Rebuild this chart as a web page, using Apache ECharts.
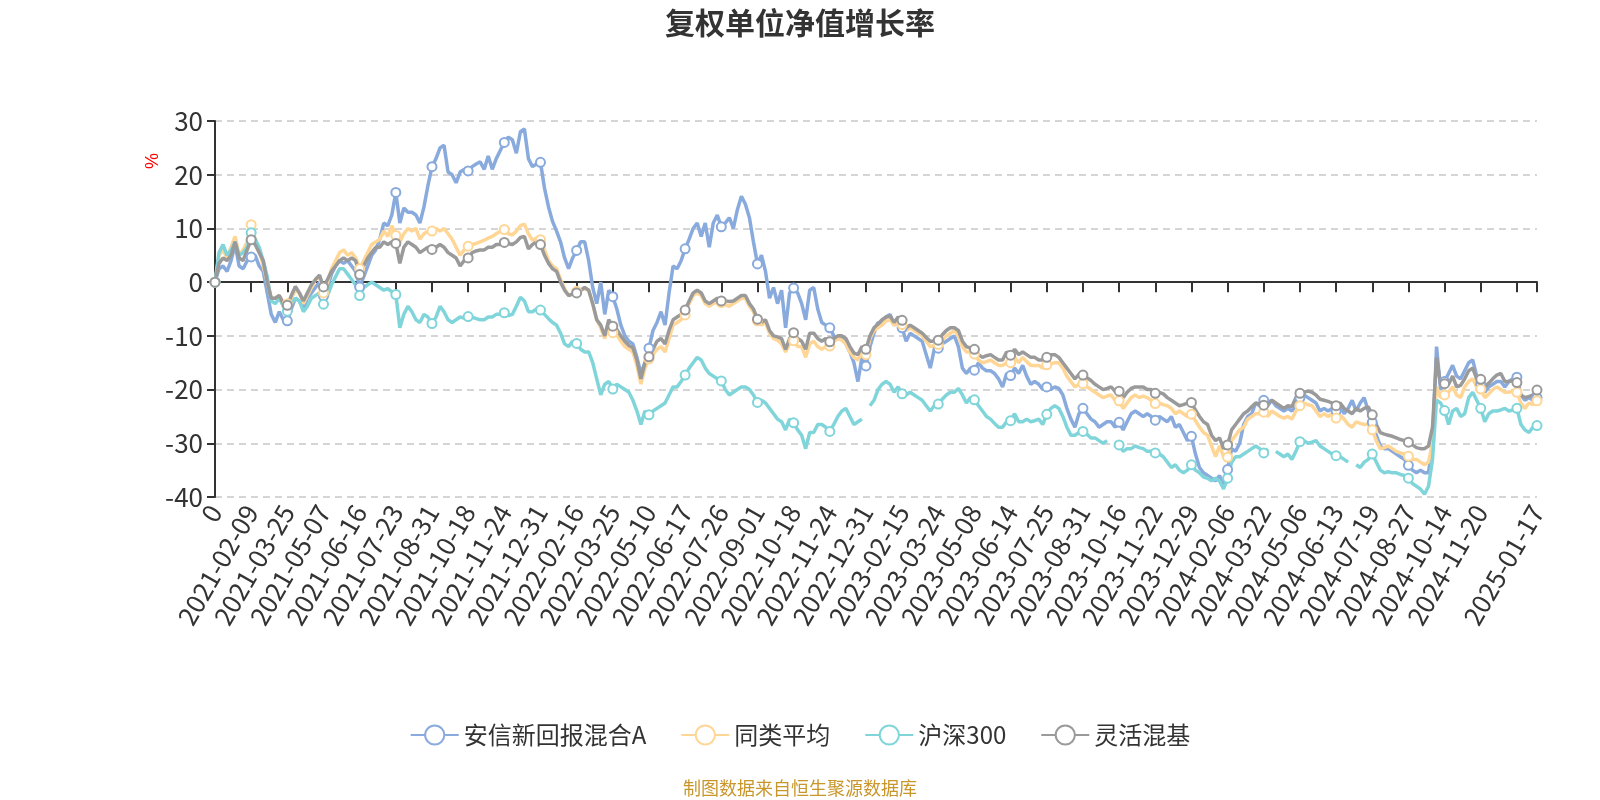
<!DOCTYPE html>
<html>
<head>
<meta charset="utf-8">
<title>复权单位净值增长率</title>
<script src="https://cdn.jsdelivr.net/npm/echarts@6/dist/echarts.min.js"></script>
<style>
html, body { margin: 0; padding: 0; background: #fff; }
#main { width: 1600px; height: 800px; }
</style>
</head>
<body>
<div id="main"></div>
<script>
// 交易日历：工作日去掉休市日，再加上有净值的季末/年末非交易日
var holidays = [
    '2021-01-01', '2021-02-11', '2021-02-12', '2021-02-15', '2021-02-16', '2021-02-17', '2021-04-05',
    '2021-05-03', '2021-05-04', '2021-05-05', '2021-06-14', '2021-09-20', '2021-09-21',
    '2021-10-01', '2021-10-04', '2021-10-05', '2021-10-06', '2021-10-07',
    '2022-01-03', '2022-01-31', '2022-02-01', '2022-02-02', '2022-02-03', '2022-02-04', '2022-04-04',
    '2022-04-05', '2022-05-02', '2022-05-03', '2022-05-04', '2022-06-03', '2022-09-12',
    '2022-10-03', '2022-10-04', '2022-10-05', '2022-10-06', '2022-10-07',
    '2023-01-02', '2023-01-23', '2023-01-24', '2023-01-25', '2023-01-26', '2023-01-27', '2023-04-05',
    '2023-05-01', '2023-05-02', '2023-05-03', '2023-06-22', '2023-06-23', '2023-09-29',
    '2023-10-02', '2023-10-03', '2023-10-04', '2023-10-05', '2023-10-06',
    '2024-01-01', '2024-02-09', '2024-02-12', '2024-02-13', '2024-02-14', '2024-02-15', '2024-02-16',
    '2024-04-04', '2024-04-05', '2024-05-01', '2024-05-02', '2024-05-03', '2024-06-10',
    '2024-09-16', '2024-09-17', '2024-10-01', '2024-10-02', '2024-10-03', '2024-10-04', '2024-10-07',
    '2025-01-01'
];
var extraDates = ['2022-12-31', '2023-09-30', '2023-12-31', '2024-03-31', '2024-06-30'];
var startDate = '2021-01-04';
var endDate = '2025-01-17';
var step = 3; // 每3个交易日取一个点

var seriesNames = ['安信新回报混合A', '同类平均', '沪深300', '灵活混基'];

var fundA = [0, 2.5, 3, 2, 4, 7, 3, 2.5, 4, 4.7,
    5, 3, 2, -2, -6, -7.5, -5.5, -7, -7.2,
    -5, -3, -3.5, -5, -3, -2, -1, 0, -2.6,
    -1, 1.5, 3, 4, 3.5, 4, 3, 2, -0.9,
    1, 3, 5, 6, 8, 11, 10.5, 12.5, 16.7,
    11, 13.8, 13, 13, 12.5, 11, 14, 18, 21.5,
    23, 25, 25.5, 20.5, 20, 18.5, 20.5, 21, 20.7,
    21.5, 22, 22.4, 21, 23.5, 21, 23, 24.5, 26,
    27, 26.5, 24, 28, 28.5, 23, 21.5, 22, 22.3,
    17.5, 14, 11.3, 9.5, 7.5, 4.5, 2.5, 4.5, 5.9,
    7.5, 7.5, 4, -1, -4, 0, -6, -1.5, -2.7,
    -5, -8, -10, -11, -11.5, -14, -17, -15, -12.3,
    -9, -7.5, -5.5, -8, -2, 3, 2.5, 4, 6.2,
    8, 10, 11, 8.5, 11, 6.5, 11, 12.5, 10.3,
    11, 12, 10, 13.5, 16, 14.5, 12, 7.5, 3.4,
    5, 2, -3, -1, -4, -1.5, -8.5, -2, -1.1,
    -2, -4, -7, -1.5, -1, -5, -7.5, -8, -8.5,
    -10, -10.5, -10.5, -11.5, -13, -15, -18.5, -14, -15.6,
    -12, -9.5, -7.5, -8, -6.5, -6, -8, -7.5, -8.5,
    -11, -9.5, -10, -10.5, -11, -13.5, -16, -12.5, -12.3,
    -11.5, -11, -10.5, -10, -12, -16, -17, -16, -16.4,
    -15, -16, -16.5, -16.5, -17, -18, -19.5, -17, -17.4,
    -16, -17, -15.5, -17.5, -19, -18.5, -19, -20, -19.5,
    -20, -19.5, -19.8, -21, -23.5, -25.5, -27, -24.5, -23.5,
    -24.5, -25.5, -26, -27, -26.5, -26, -26, -27, -26.1,
    -27.5, -26, -24.5, -24, -24.5, -25, -24.5, -25, -25.7,
    -25, -25.5, -26, -25, -27, -26.5, -28, -29.5, -28.7,
    -32, -34.5, -35.5, -36, -36.5, -37, -36, -38, -34.9,
    -31, -31.5, -30, -26.5, -25, -24.5, -22.5, -23, -22,
    -23, -22, -23, -23.5, -24, -23.5, -24, -23, -21.5,
    -21, -21.5, -22, -22.5, -24, -23.5, -24, -23.5, -24,
    -23, -24.5, -23.5, -22, -24, -22.5, -21.5, -24, -26.1,
    -28.5, -30.5, -31, -31, -31.5, -32, -32.5, -33, -34.1,
    -35, -35.5, -35, -35.5, -35.5, -30, -12, -20, -18.5,
    -17, -15.5, -17.5, -18, -16.5, -15, -14.5, -17.5, -19,
    -20.5, -19.5, -19, -18.5, -18.5, -19.5, -18.5, -18, -17.7,
    -21, -22, -21.5, -22, -21.5];

var peerAvg = [0, 5, 6, 4.5, 6.5, 8.5, 5, 6, 7.5, 10.7,
    8, 6, 3, 0, -3, -3, -2.5, -4, -4,
    -3, -1.5, -2, -4, -2.5, -1, 0.5, 1, -2,
    0, 2.5, 4, 5.5, 6, 5, 5.5, 4.5, 2.5,
    4, 5.5, 7, 7.5, 8, 9.5, 8.5, 10.5, 8.7,
    7.5, 9, 10, 9.5, 10, 8, 9, 9.5, 9.5,
    10, 9.5, 10, 9, 8, 6.5, 5, 6, 6.7,
    7, 7.2, 7.5, 7.8, 8.2, 8.5, 9, 9.5, 9.8,
    9, 8.8, 9.5, 10.5, 10.8, 9, 7.8, 8.2, 7.9,
    6, 4, 3, 2.5, 0.5, -1.2, -2.5, -2.2, -1.7,
    -1.5, -1.2, -1.5, -4, -7, -8.5, -10.5, -7.5, -9.4,
    -9.8, -11, -12, -12.5, -13, -15.5, -19, -16, -14.3,
    -13.5, -12.5, -12, -13, -10.5, -8, -7.5, -7, -6.1,
    -4, -2.5, -2, -2.5, -4, -4.5, -4, -3.5, -3.8,
    -4.2, -4.5, -4, -3.5, -3, -3, -4.5, -5.5, -7.2,
    -8, -7.5, -9.5, -10.5, -10.8, -11.5, -13, -11.5, -10.9,
    -12, -12, -14, -11.5, -11, -12, -12.5, -12, -11.9,
    -11, -10.5, -10.8, -11.5, -13, -14, -14.5, -13, -13.5,
    -10.5, -9, -8.5, -8, -7.2, -7, -8, -7.5, -7.9,
    -9, -8.5, -9, -9.5, -10, -11, -12, -11.8, -11.6,
    -10.8, -10, -9.5, -9, -10, -12, -13, -13, -13.4,
    -14.5, -15, -14.8, -14.5, -15, -15.5, -15.5, -15, -15,
    -14, -15, -14, -14.8, -15.5, -15.5, -15.5, -16, -15.4,
    -15.2, -15, -15, -16, -17.5, -18.5, -19.5, -19, -18.9,
    -19.5, -20, -20.5, -21, -21.5, -21.2, -21, -22, -22.1,
    -23.5, -22.5, -21.5, -21, -21.5, -21.2, -21.5, -22, -22.6,
    -22.5, -22.8, -23, -23.5, -24.5, -24, -24.5, -25, -24.6,
    -25.8, -27, -28, -28.5, -30.5, -32.5, -30.5, -32.5, -32.6,
    -29.5, -28.5, -27.5, -27, -25.5, -25, -24.5, -24.5, -24.2,
    -25, -24, -24.5, -25, -25.3, -25, -25.5, -24, -23,
    -22.5, -22.8, -23, -24, -25, -24.5, -25, -24.5, -25.3,
    -24.8, -25.5, -26.5, -27, -26, -26.3, -26.5, -26.5, -27.5,
    -29.5, -31, -30.8, -30.5, -31, -31.5, -31.8, -32, -32.4,
    -33, -33, -33.5, -34, -33.5, -30, -19.5, -21.5, -21,
    -20.5, -19.5, -21, -21.5, -19.5, -18.5, -18, -19.5, -19.9,
    -21.5, -20.8, -20, -19.5, -20, -20.5, -20.5, -20.3, -20.5,
    -22.5, -23.5, -22.5, -22.8, -22.1];

var hs300 = [0, 5.5, 7, 5, 6, 7.5, 5, 5.5, 6.5, 9.2,
    8, 6.5, 4, 1, -3.5, -4, -3, -4.5, -5.4,
    -4, -3, -3.5, -5.5, -4.5, -3, -2.5, -2, -4.1,
    -2.5, -0.5, 1, 2.5, 2.5, 1.5, 0.5, -0.5, -2.5,
    -1, -0.5, 0, -0.5, -1, -1.5, -1.2, -1.8, -2.3,
    -8.5, -6, -4.5, -5.5, -7, -7.5, -6, -6.5, -7.7,
    -6.5, -4.5, -5.5, -7, -7.5, -7, -6.5, -6.7, -6.4,
    -6.5, -6.8, -7, -7, -6.5, -6.5, -6, -6, -5.7,
    -6.2, -6, -4.5, -2.8, -3.5, -5.5, -5.5, -5, -5.2,
    -6, -6.8, -7.5, -8, -9.5, -11.5, -12, -11, -11.4,
    -12.5, -13, -13, -15, -18, -21, -19, -18.5, -19.9,
    -19, -19.5, -20, -20.5, -22, -24, -26.5, -24, -24.7,
    -24, -23.5, -23, -22.5, -21, -19.5, -19.5, -18.5, -17.3,
    -16, -15, -14, -14.5, -16, -17, -17.5, -18, -18.4,
    -20, -21, -20.5, -20, -19.5, -19.5, -20, -21, -22.4,
    -22, -22.5, -23.5, -24.5, -25.5, -26, -27.5, -25.5, -26.2,
    -27.5, -28.5, -31, -28, -28, -26.5, -26.5, -27, -27.8,
    -26.5, -25, -24, -23.5, -25, -26.5, -26, -25.5, null,
    -23, -22, -20, -19, -18.5, -19, -20.5, -19.5, -20.8,
    -21, -20.5, -21, -21.5, -22, -23, -24, -23, -22.7,
    -21.8, -21, -20.5, -20.5, -19.8, -21, -22.5, -21.5, -21.9,
    -23, -24, -25, -25.5, -26.3, -27, -27, -26, -25.8,
    -24.5, -26, -26, -25.5, -26, -25.8, -25.5, -26.5, -24.6,
    -23.5, -23, -23.5, -25, -27, -28.5, -28.5, -28, -27.8,
    -28.3, -29, -29, -29.5, -30, -29.5, null, -30.5, -30.3,
    -31.5, -31, -31, -30.5, -30.8, -31, -31.5, -31.5, -31.8,
    -32, -32.5, -33.5, -34.5, -34, -35, -35.5, -35, -34,
    -35, -35.5, -36.3, -36.5, -37, -36.5, -37, -38.5, -36.5,
    -33.5, -32.5, -32.5, -32, -31.5, -31, -30.5, -31, -31.8,
    -31, null, -31.5, -32, -32.5, -32, -33, -31.5, -29.7,
    -29.5, -30, -29.8, -29.5, -30.5, -31, -31.5, -32, -32.3,
    -32.5, -33, -33.5, null, -34, -34.5, -33.5, -33, -32,
    -33.5, -35, -35.5, -35.3, -35.5, -35.5, -35.8, -36, -36.5,
    -37.5, -38, -38.5, -39.5, -38, -33, -22, -22.5, -23.9,
    -26.5, -24, -23.5, -25, -24.5, -21.5, -20.5, -22, -23.5,
    -26, -24.5, -24, -24, -23.8, -23.5, -24, -23.8, -23.5,
    -26.5, -27.5, -28, -27, -26.7];

var flexMix = [0, 3.5, 4.5, 4, 5, 7.5, 4.5, 4, 6, 7.9,
    7, 5.5, 4, 0, -3, -3, -2.5, -4, -4.3,
    -2.5, -0.8, -2, -3.5, -2, -0.5, 0.5, 1.3, -0.9,
    0.5, 2, 3, 4, 4.5, 4, 4.5, 4, 1.4,
    3, 4.5, 5.5, 6.5, 6.5, 7.5, 7, 7.5, 7.2,
    3.5, 6.5, 7.5, 7, 6.5, 5.5, 6, 6.5, 6.1,
    6.5, 7, 6.5, 5.5, 5, 4.5, 3, 4, 4.5,
    5.5, 5.8, 6, 6, 6.5, 6.5, 7, 7, 7.4,
    7.2, 7, 7.5, 8.3, 8.5, 6.2, 7, 7.5, 7,
    5, 3.5, 2.5, 2, 0, -1.5, -2.5, -2.2, -2,
    -1.5, -1, -1.5, -4, -7, -8, -10, -7, -8.2,
    -8.8, -10, -11, -11.8, -12.2, -14.5, -18, -15, -13.9,
    -12.5, -11, -10.5, -11.5, -9, -7, -6.5, -6, -5.2,
    -3.5, -2, -1.5, -2, -3.5, -4, -3.5, -3, -3.5,
    -3.5, -3.6, -3.5, -3, -2.5, -2.5, -4, -5, -6.9,
    -7.5, -7, -9, -10, -10.2, -10.5, -12.5, -10.5, -9.4,
    -10.5, -11, -12.5, -9.5, -9.5, -10.5, -11, -10.5, -11.1,
    -10.5, -10, -10, -10.5, -12, -13.2, -13.5, -12, -12.5,
    -10, -8.5, -7.8, -7, -6.5, -6.3, -7.5, -6.5, -7.1,
    -8.5, -8, -8.5, -9, -9.5, -10.3, -11, -11, -10.8,
    -9.8, -9, -8.5, -8.5, -9, -11, -12, -12.3, -12.5,
    -13.5, -14, -13.7, -13.5, -14, -14.5, -14.5, -13, -13.6,
    -12.5, -13.5, -13, -13.5, -14, -14, -14.5, -14.5, -14,
    -13.5, -13.5, -14, -15, -16, -17, -18, -17.2, -17.3,
    -17.8, -18.3, -19, -19.5, -20, -19.8, -19.5, -20.3, -20.3,
    -21.5, -20.5, -19.8, -19.5, -19.5, -19.5, -20, -20, -20.7,
    -20.5, -20.8, -21.5, -22, -22.5, -23, -22.8, -22.5, -22.4,
    -23.8, -25, -26, -26.5, -28.5, -29.5, -29, -31, -30.3,
    -27.5, -26.5, -25.5, -24.5, -24, -23.2, -22.5, -22.7, -22.9,
    -22.5, -22, -22.5, -23, -23.5, -23, -23.2, -21.5, -20.7,
    -20.5, -20.3, -20.5, -21, -21.8, -22, -22.2, -22.5, -23,
    -22.5, -23.5, -24, -24.5, -23.5, -24, -23.5, -23.2, -24.7,
    -26.5, -28, -28.3, -28.5, -28.7, -29, -29.3, -29.5, -29.8,
    -30.3, -30.8, -31, -31, -30.5, -27, -14, -19, -18.9,
    -19, -17.5, -19.5, -19.2, -18, -16.5, -16, -18, -18.1,
    -19.5, -18.8, -18, -17.3, -17, -18.5, -18.5, -18.3, -18.7,
    -21, -21.5, -21.3, -21, -20.1];

function fmt(d) {
    var m = d.getUTCMonth() + 1, day = d.getUTCDate();
    return d.getUTCFullYear() + '-' + (m < 10 ? '0' : '') + m + '-' + (day < 10 ? '0' : '') + day;
}

var days = ['0'];
var cur = new Date(startDate + 'T00:00:00Z');
var last = new Date(endDate + 'T00:00:00Z');
while (cur <= last) {
    var s = fmt(cur);
    var wd = cur.getUTCDay();
    if ((wd !== 0 && wd !== 6 && holidays.indexOf(s) < 0) || extraDates.indexOf(s) >= 0) {
        days.push(s);
    }
    cur = new Date(cur.getTime() + 86400000);
}

var categories = [];
for (var i = 0; i < days.length; i += step) {
    categories.push(days[i]);
}
if ((days.length - 1) % step !== 0) {
    categories.push(days[days.length - 1]);
}

var values = [fundA, peerAvg, hs300, flexMix];
var colors = ['#89aadc', '#ffd696', '#80d5da', '#9a9a9a'];

var chart = echarts.init(document.getElementById('main'));
var option = {
    animation: false,
    color: colors,
    textStyle: {
        fontFamily: '"Noto Sans CJK SC", "Noto Sans", sans-serif'
    },
    title: [
        {
            text: '复权单位净值增长率',
            left: 'center',
            top: 3,
            textStyle: {fontSize: 30, fontWeight: 'bold', color: '#333'}
        },
        {
            text: '制图数据来自恒生聚源数据库',
            left: 'center',
            top: 774,
            textStyle: {fontSize: 18, fontWeight: 'normal', color: '#c9962b'}
        }
    ],
    legend: {
        data: seriesNames,
        left: 'center',
        top: 718,
        itemWidth: 48,
        itemHeight: 24,
        itemGap: 34,
        textStyle: {fontSize: 24, color: '#333'}
    },
    grid: {
        left: 215,
        right: 63,
        top: 121,
        bottom: 303,
        containLabel: false,
        outerBoundsMode: 'none'
    },
    xAxis: [
        {
            // 底部：只放日期标签
            type: 'category',
            position: 'bottom',
            boundaryGap: false,
            data: categories,
            axisLine: {show: false, onZero: false},
            axisTick: {show: false},
            axisLabel: {
                interval: 8,
                rotate: 60,
                fontSize: 26,
                color: '#333',
                margin: 10,
                showMaxLabel: true
            },
            splitLine: {show: false}
        },
        {
            // 零轴：轴线和刻度
            type: 'category',
            position: 'top',
            boundaryGap: false,
            data: categories,
            axisLine: {onZero: true, lineStyle: {color: '#333', width: 2}},
            axisTick: {inside: true, interval: 8, length: 10, lineStyle: {color: '#333', width: 2}},
            axisLabel: {show: false, interval: 8, showMaxLabel: true},
            splitLine: {show: false}
        }
    ],
    yAxis: {
        type: 'value',
        min: -40,
        max: 30,
        interval: 10,
        axisLine: {show: true, lineStyle: {color: '#333', width: 2}},
        axisTick: {show: true, length: 8, lineStyle: {color: '#333', width: 2}},
        axisLabel: {fontSize: 26, color: '#333', margin: 12},
        splitLine: {lineStyle: {type: [7, 5], color: '#c8c8c8', width: 1.5}}
    },
    graphic: [
        {
            type: 'text',
            x: 153,
            y: 161,
            rotation: Math.PI / 2,
            style: {
                text: '%',
                fill: '#f00',
                fontSize: 18,
                align: 'center',
                verticalAlign: 'middle'
            }
        }
    ],
    series: seriesNames.map(function (name, idx) {
        return {
            name: name,
            type: 'line',
            data: values[idx],
            symbol: 'emptyCircle',
            symbolSize: 9,
            lineStyle: {width: 3.5},
            itemStyle: {borderWidth: 2}
        };
    })
};
chart.setOption(option);
</script>
</body>
</html>
